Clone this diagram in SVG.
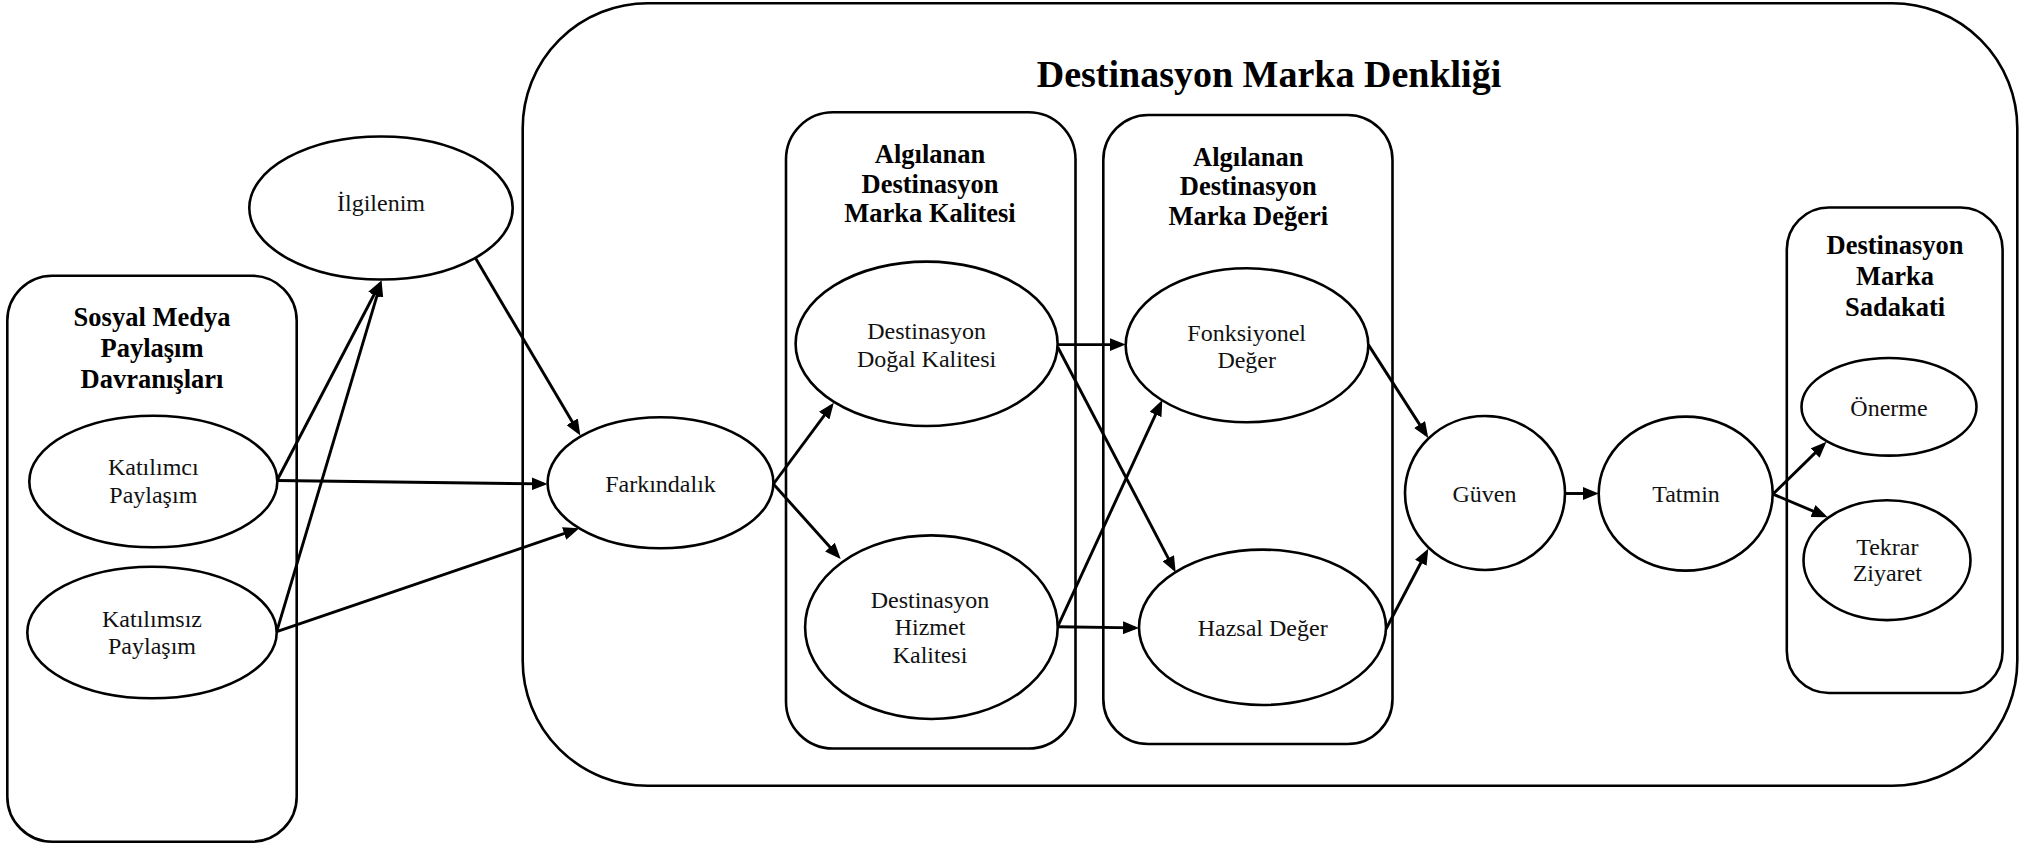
<svg xmlns="http://www.w3.org/2000/svg" width="2033" height="844" viewBox="0 0 2033 844">
  <style>
    .box { fill: none; stroke: #000; stroke-width: 2.6; }
    .node { fill: #fff; stroke: #000; stroke-width: 2.6; }
    .lbl { font-family: "Liberation Serif", "Times New Roman", serif; font-size: 24px; fill: #111; text-anchor: middle; }
    .ttl { font-family: "Liberation Serif", "Times New Roman", serif; font-size: 26.5px; font-weight: bold; fill: #000; text-anchor: middle; }
    .big { font-family: "Liberation Serif", "Times New Roman", serif; font-size: 38px; font-weight: bold; fill: #000; text-anchor: middle; }
    .edge { fill: none; stroke: #000; stroke-width: 2.9; marker-end: url(#head); }
  </style>
  <defs>
    <marker id="head" markerUnits="userSpaceOnUse" markerWidth="16" markerHeight="13" refX="12" refY="6.5" orient="auto">
      <path d="M0,0 L16,6.5 L0,13 z" fill="#000"/>
    </marker>
  </defs>
  <rect width="2033" height="844" fill="#fff"/>

  <!-- grouping containers -->
  <g id="equity-group">
    <rect class="box" x="522.7" y="3.3" width="1494.6" height="782.4" rx="125" ry="125"/>
    <text class="big" x="1269" y="87">Destinasyon Marka Denkliği</text>
  </g>
  <g id="sharing-group">
    <rect class="box" x="7.3" y="275.7" width="289.4" height="566" rx="45" ry="45"/>
    <text class="ttl" x="152" y="326">Sosyal Medya</text>
    <text class="ttl" x="152" y="357">Paylaşım</text>
    <text class="ttl" x="152" y="388">Davranışları</text>
  </g>
  <g id="quality-group">
    <rect class="box" x="786" y="112.3" width="289.5" height="636.2" rx="47" ry="47"/>
    <text class="ttl" x="930" y="163">Algılanan</text>
    <text class="ttl" x="930" y="193">Destinasyon</text>
    <text class="ttl" x="930" y="222">Marka Kalitesi</text>
  </g>
  <g id="value-group">
    <rect class="box" x="1103.3" y="115" width="289.2" height="629" rx="45" ry="45"/>
    <text class="ttl" x="1248.3" y="166">Algılanan</text>
    <text class="ttl" x="1248.3" y="195">Destinasyon</text>
    <text class="ttl" x="1248.3" y="224.5">Marka Değeri</text>
  </g>
  <g id="loyalty-group">
    <rect class="box" x="1786.8" y="207.5" width="215.8" height="485.5" rx="42" ry="42"/>
    <text class="ttl" x="1895" y="254">Destinasyon</text>
    <text class="ttl" x="1895" y="284.5">Marka</text>
    <text class="ttl" x="1895" y="315.5">Sadakati</text>
  </g>

  <!-- connectors -->
  <g id="connectors">
    <line class="edge" x1="277" y1="480.5" x2="379.6" y2="284"/>
    <line class="edge" x1="276.7" y1="631.7" x2="380.4" y2="284.3"/>
    <line class="edge" x1="277" y1="480.5" x2="543.6" y2="483.9"/>
    <line class="edge" x1="276.7" y1="631.7" x2="575.5" y2="529.6"/>
    <line class="edge" x1="475" y1="257.3" x2="578.3" y2="432.1"/>
    <line class="edge" x1="773.4" y1="484" x2="831.4" y2="405.9"/>
    <line class="edge" x1="773.4" y1="484" x2="838" y2="556"/>
    <line class="edge" x1="1057.7" y1="344.6" x2="1121.7" y2="344.6"/>
    <line class="edge" x1="1057.7" y1="347" x2="1173.8" y2="568.8"/>
    <line class="edge" x1="1057.7" y1="626.7" x2="1160.6" y2="403.6"/>
    <line class="edge" x1="1057.7" y1="626.7" x2="1135" y2="627.9"/>
    <line class="edge" x1="1368.3" y1="344.6" x2="1426.1" y2="434.6"/>
    <line class="edge" x1="1386" y1="629" x2="1426.4" y2="552.2"/>
    <line class="edge" x1="1565" y1="493.5" x2="1594.7" y2="493.5"/>
    <line class="edge" x1="1773.6" y1="493.5" x2="1823.6" y2="444.6"/>
    <line class="edge" x1="1773.6" y1="494.4" x2="1824" y2="515.7"/>
  </g>

  <!-- nodes -->
  <g id="ilgilenim">
    <ellipse class="node" cx="381" cy="208" rx="131.7" ry="71.5"/>
    <text class="lbl" x="381" y="211">İlgilenim</text>
  </g>
  <g id="katilimci">
    <ellipse class="node" cx="153.3" cy="481.5" rx="124" ry="65.8"/>
    <text class="lbl" x="153.3" y="475">Katılımcı</text>
    <text class="lbl" x="153.3" y="503">Paylaşım</text>
  </g>
  <g id="katilimsiz">
    <ellipse class="node" cx="152" cy="632.5" rx="124.7" ry="65.8"/>
    <text class="lbl" x="152" y="627">Katılımsız</text>
    <text class="lbl" x="152" y="654">Paylaşım</text>
  </g>
  <g id="farkindalik">
    <ellipse class="node" cx="660.5" cy="482.8" rx="112.9" ry="65.5"/>
    <text class="lbl" x="660.5" y="491.5">Farkındalık</text>
  </g>
  <g id="dogal-kalite">
    <ellipse class="node" cx="926.6" cy="343.8" rx="131" ry="82.2"/>
    <text class="lbl" x="926.6" y="339">Destinasyon</text>
    <text class="lbl" x="926.6" y="366.5">Doğal Kalitesi</text>
  </g>
  <g id="hizmet-kalite">
    <ellipse class="node" cx="931.4" cy="627.2" rx="126.3" ry="91.8"/>
    <text class="lbl" x="930" y="607.5">Destinasyon</text>
    <text class="lbl" x="930" y="635">Hizmet</text>
    <text class="lbl" x="930" y="662.5">Kalitesi</text>
  </g>
  <g id="fonksiyonel">
    <ellipse class="node" cx="1247" cy="345.3" rx="121.3" ry="77"/>
    <text class="lbl" x="1246.7" y="341">Fonksiyonel</text>
    <text class="lbl" x="1246.7" y="368">Değer</text>
  </g>
  <g id="hazsal">
    <ellipse class="node" cx="1262.5" cy="627.3" rx="123.5" ry="77.7"/>
    <text class="lbl" x="1262.7" y="635.7">Hazsal Değer</text>
  </g>
  <g id="guven">
    <ellipse class="node" cx="1485" cy="493" rx="80" ry="77"/>
    <text class="lbl" x="1484.5" y="501.8">Güven</text>
  </g>
  <g id="tatmin">
    <ellipse class="node" cx="1685.7" cy="493.6" rx="87" ry="77"/>
    <text class="lbl" x="1686" y="502.3">Tatmin</text>
  </g>
  <g id="onerme">
    <ellipse class="node" cx="1889" cy="406.8" rx="87.5" ry="48.8"/>
    <text class="lbl" x="1889" y="416">Önerme</text>
  </g>
  <g id="tekrar-ziyaret">
    <ellipse class="node" cx="1887" cy="560.2" rx="83.5" ry="59.9"/>
    <text class="lbl" x="1887.3" y="554.8">Tekrar</text>
    <text class="lbl" x="1887.3" y="581.3">Ziyaret</text>
  </g>
</svg>
